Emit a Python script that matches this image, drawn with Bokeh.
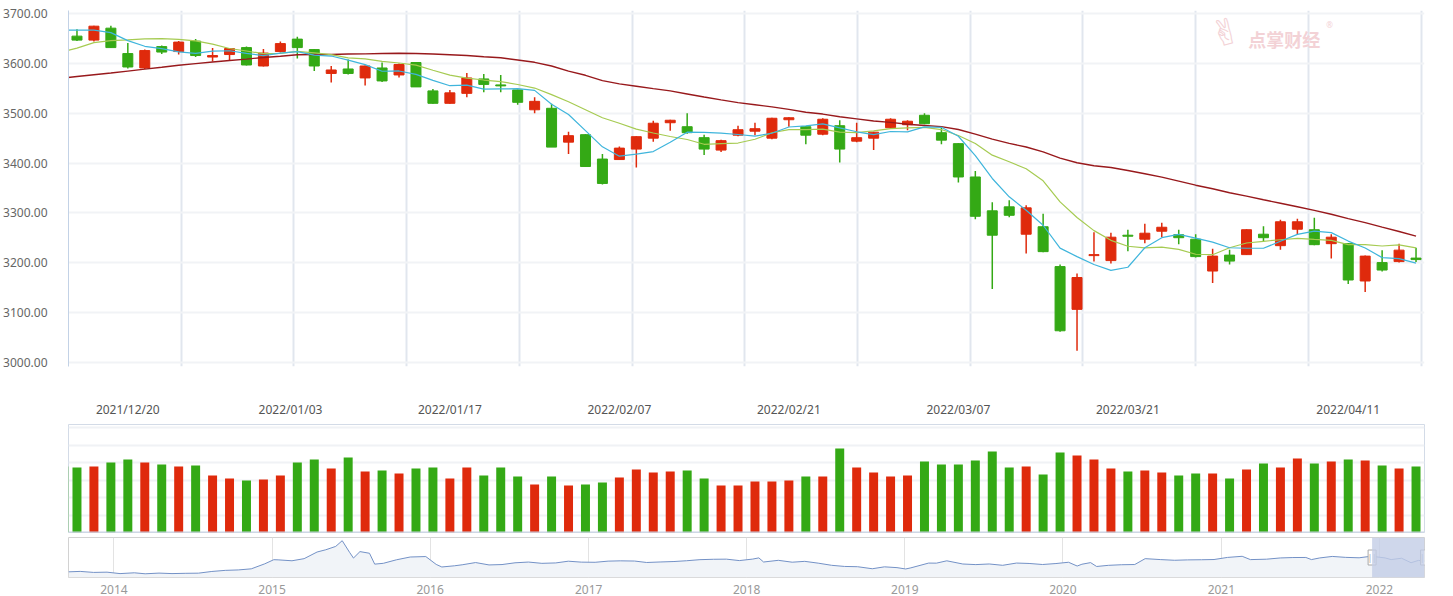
import pandas as pd
from bokeh.plotting import figure
from bokeh.layouts import column
from bokeh.models import (Range1d, FixedTicker, ColumnDataSource, CustomJSTickFormatter,
                          PrintfTickFormatter, BoxAnnotation, Label, Span)
from bokeh.embed import file_html
from bokeh.resources import INLINE
from bokeh.core.properties import value

# ---------------- data ----------------
DATES = [
    "2021/12/14", "2021/12/15", "2021/12/16", "2021/12/17", "2021/12/20", "2021/12/21", "2021/12/22",
    "2021/12/23", "2021/12/24", "2021/12/27", "2021/12/28", "2021/12/29", "2021/12/30", "2021/12/31",
    "2022/01/04", "2022/01/05", "2022/01/06", "2022/01/07", "2022/01/10", "2022/01/11", "2022/01/12",
    "2022/01/13", "2022/01/14", "2022/01/17", "2022/01/18", "2022/01/19", "2022/01/20", "2022/01/21",
    "2022/01/24", "2022/01/25", "2022/01/26", "2022/01/27", "2022/01/28", "2022/02/07", "2022/02/08",
    "2022/02/09", "2022/02/10", "2022/02/11", "2022/02/14", "2022/02/15", "2022/02/16", "2022/02/17",
    "2022/02/18", "2022/02/21", "2022/02/22", "2022/02/23", "2022/02/24", "2022/02/25", "2022/02/28",
    "2022/03/01", "2022/03/02", "2022/03/03", "2022/03/04", "2022/03/07", "2022/03/08", "2022/03/09",
    "2022/03/10", "2022/03/11", "2022/03/14", "2022/03/15", "2022/03/16", "2022/03/17", "2022/03/18",
    "2022/03/21", "2022/03/22", "2022/03/23", "2022/03/24", "2022/03/25", "2022/03/28", "2022/03/29",
    "2022/03/30", "2022/03/31", "2022/04/01", "2022/04/06", "2022/04/07", "2022/04/08", "2022/04/11",
    "2022/04/12", "2022/04/13", "2022/04/14", "2022/04/15",
]

OPEN = [3663,
        3655, 3647, 3671, 3620, 3591, 3634, 3624, 3645, 3613, 3618,
        3632, 3595, 3624, 3649, 3628, 3580, 3589, 3571, 3591, 3577,
        3602, 3545, 3520, 3540, 3569, 3557, 3547, 3507, 3510, 3442,
        3457, 3408, 3407, 3428, 3450, 3481, 3473, 3451, 3426, 3456,
        3464, 3450, 3487, 3473, 3458, 3475, 3444, 3450, 3471, 3477,
        3496, 3461, 3439, 3372, 3304, 3312, 3257, 3272, 3192, 3106,
        3214, 3204, 3255, 3247, 3263, 3256, 3247, 3183, 3215, 3216,
        3257, 3234, 3267, 3266, 3238, 3238, 3163, 3200, 3202, 3209]

HIGH = [3672,
        3669, 3676, 3676, 3641, 3628, 3636, 3645, 3649, 3631, 3631,
        3634, 3629, 3644, 3654, 3629, 3595, 3608, 3596, 3602, 3600,
        3603, 3549, 3547, 3581, 3579, 3577, 3548, 3532, 3519, 3463,
        3458, 3418, 3433, 3454, 3485, 3487, 3500, 3457, 3447, 3475,
        3481, 3491, 3492, 3474, 3490, 3486, 3481, 3463, 3490, 3486,
        3500, 3471, 3440, 3384, 3321, 3325, 3315, 3298, 3196, 3178,
        3261, 3260, 3266, 3278, 3280, 3266, 3257, 3228, 3226, 3267,
        3273, 3286, 3288, 3290, 3257, 3239, 3214, 3225, 3238, 3230]

LOW = [3651,
       3645, 3644, 3631, 3590, 3589, 3619, 3618, 3613, 3604, 3607,
       3596, 3594, 3622, 3610, 3585, 3562, 3578, 3556, 3563, 3572,
       3553, 3519, 3519, 3532, 3542, 3542, 3517, 3500, 3432, 3418,
       3393, 3357, 3406, 3391, 3443, 3465, 3459, 3416, 3422, 3454,
       3456, 3448, 3473, 3438, 3456, 3401, 3442, 3426, 3469, 3466,
       3478, 3438, 3361, 3287, 3147, 3291, 3218, 3221, 3061, 3023,
       3202, 3198, 3223, 3239, 3251, 3237, 3210, 3159, 3196, 3215,
       3243, 3226, 3256, 3235, 3208, 3157, 3141, 3182, 3200, 3201]

CLOSE = [3662,
         3647, 3675, 3632, 3593, 3626, 3623, 3643, 3616, 3616, 3630,
         3597, 3621, 3640, 3632, 3595, 3587, 3580, 3595, 3565, 3598,
         3553, 3520, 3541, 3571, 3558, 3555, 3522, 3524, 3432, 3455,
         3393, 3359, 3430, 3453, 3480, 3486, 3461, 3428, 3445, 3467,
         3469, 3490, 3491, 3456, 3488, 3428, 3451, 3462, 3488, 3484,
         3479, 3446, 3372, 3293, 3255, 3295, 3310, 3222, 3063, 3170,
         3216, 3251, 3253, 3259, 3271, 3250, 3212, 3213, 3203, 3266,
         3250, 3282, 3282, 3236, 3251, 3165, 3213, 3185, 3225, 3206]

VOLUME = [330,
          325, 330, 350, 365, 350, 340, 330, 335, 285, 270,
          260, 265, 285, 350, 365, 320, 375, 305, 310, 295,
          320, 325, 270, 325, 285, 325, 280, 240, 280, 235,
          240, 250, 275, 315, 300, 305, 310, 270, 235, 235,
          255, 255, 260, 280, 280, 420, 325, 300, 280, 285,
          355, 340, 340, 360, 405, 325, 330, 290, 400, 385,
          365, 320, 305, 310, 300, 285, 295, 295, 270, 315,
          345, 325, 370, 345, 355, 365, 360, 335, 320, 330]

MA5 = [3667,
       3667, 3667, 3662, 3646, 3634.6, 3629.8, 3623.4, 3620.2, 3624.8, 3625.6,
       3620.4, 3616.0, 3620.8, 3624.0, 3617.0, 3615.0, 3606.8, 3597.8, 3584.4, 3585.0,
       3578.2, 3566.2, 3555.4, 3556.6, 3548.6, 3549.0, 3549.4, 3546.0, 3518.2, 3497.6,
       3465.2, 3432.6, 3413.8, 3418.0, 3423.0, 3441.6, 3462.0, 3461.6, 3460.0, 3457.4,
       3454.0, 3459.8, 3472.4, 3474.6, 3478.8, 3470.6, 3462.8, 3457.0, 3463.4, 3462.6,
       3472.8, 3471.8, 3453.8, 3414.8, 3369.0, 3332.2, 3305.0, 3275.0, 3229.0, 3212.0,
       3196.2, 3184.4, 3190.6, 3229.8, 3250.0, 3256.8, 3249.0, 3241.0, 3229.8, 3228.8,
       3228.8, 3242.8, 3256.6, 3263.2, 3260.2, 3243.2, 3229.4, 3210.0, 3207.8, 3198.8]

MA10 = [3622,
        3631, 3642, 3646, 3647.5, 3649.5, 3650, 3648.5, 3645.6, 3639, 3630.1,
        3625.1, 3619.7, 3620.5, 3624.4, 3621.3, 3617.7, 3611.4, 3609.3, 3604.2, 3601.0,
        3596.6, 3586.5, 3576.6, 3570.5, 3566.8, 3563.6, 3557.8, 3550.7, 3537.4, 3523.1,
        3507.1, 3491.0, 3479.9, 3468.1, 3460.3, 3453.4, 3447.3, 3437.7, 3439.0, 3440.2,
        3447.8, 3460.9, 3467.0, 3467.3, 3468.1, 3462.3, 3461.3, 3464.7, 3469.0, 3470.7,
        3471.7, 3467.3, 3455.4, 3439.1, 3415.8, 3402.5, 3388.4, 3364.4, 3321.9, 3290.5,
        3264.2, 3244.7, 3232.8, 3229.4, 3231.0, 3226.5, 3216.7, 3215.8, 3229.8, 3239.4,
        3242.8, 3245.9, 3248.8, 3246.5, 3244.5, 3236.0, 3236.1, 3233.3, 3235.5, 3229.5]

MA30 = [3570,
        3574, 3577.4, 3580.8, 3584.7, 3588.6, 3592.5, 3596.5, 3599.8, 3603, 3606,
        3608.9, 3612.2, 3614.7, 3617.5, 3618, 3618, 3619, 3619.4, 3620, 3620.6,
        3620, 3619, 3617.5, 3616, 3613.5, 3611.5, 3607, 3602.4, 3595, 3584.7,
        3576.3, 3565.7, 3559.0, 3554.3, 3549.5, 3544.9, 3538.8, 3532.6, 3526.9, 3521.4,
        3517.2, 3512.8, 3507.8, 3502.0, 3498.4, 3493.1, 3488.8, 3484.4, 3481.8, 3478.0,
        3475.5, 3473.1, 3467.4, 3458.2, 3448.1, 3439.4, 3432.3, 3422.3, 3410.0, 3400.5,
        3394.6, 3391.0, 3385.1, 3378.6, 3371.6, 3363.8, 3355.5, 3348.3, 3340.2, 3333.5,
        3326.2, 3319.3, 3312.3, 3305.0, 3297.1, 3288.3, 3280.4, 3271.2, 3262.4, 3253.1]

XTICK_LABELS = ["2021/12/20", "2022/01/03", "2022/01/17", "2022/02/07",
                "2022/02/21", "2022/03/07", "2022/03/21", "2022/04/11"]
XTICK_POS = [4, 13.6, 23, 33, 43, 53, 63, 76]
YTICKS = [3000, 3100, 3200, 3300, 3400, 3500, 3600, 3700]

NAV_DATES = [
    "2013-09-18", "2013-10-15", "2013-11-15", "2013-12-16", "2014-01-15", "2014-02-17", "2014-03-14",
    "2014-04-15", "2014-05-15", "2014-06-16", "2014-07-15", "2014-08-15", "2014-09-15", "2014-10-15",
    "2014-11-14", "2014-12-15", "2015-01-05", "2015-01-15", "2015-02-16", "2015-03-16", "2015-04-15",
    "2015-05-05", "2015-05-28", "2015-06-12", "2015-06-29", "2015-07-08", "2015-07-23", "2015-08-14",
    "2015-08-26", "2015-09-15", "2015-10-15", "2015-11-16", "2015-12-22", "2016-01-15", "2016-01-28",
    "2016-02-26", "2016-03-15", "2016-04-15", "2016-05-16", "2016-06-15", "2016-07-15", "2016-08-15",
    "2016-09-15", "2016-10-17", "2016-11-15", "2016-12-15", "2017-01-16", "2017-02-15", "2017-03-15",
    "2017-04-17", "2017-05-15", "2017-06-15", "2017-07-17", "2017-08-15", "2017-09-15", "2017-10-16",
    "2017-11-15", "2017-12-15", "2018-01-15", "2018-01-29", "2018-02-09", "2018-03-15", "2018-04-16",
    "2018-05-15", "2018-06-15", "2018-07-16", "2018-08-15", "2018-09-14", "2018-10-18", "2018-11-15",
    "2018-12-14", "2019-01-03", "2019-01-15", "2019-02-25", "2019-03-15", "2019-04-08", "2019-05-15",
    "2019-06-14", "2019-07-15", "2019-08-15", "2019-09-16", "2019-10-15", "2019-11-15", "2019-12-16",
    "2020-01-14", "2020-02-03", "2020-02-14", "2020-03-05", "2020-03-19", "2020-04-15", "2020-05-15",
    "2020-06-15", "2020-07-09", "2020-08-14", "2020-09-15", "2020-10-15", "2020-11-16", "2020-12-15",
    "2021-01-15", "2021-02-18", "2021-03-09", "2021-04-15", "2021-05-17", "2021-06-15", "2021-07-15",
    "2021-07-28", "2021-08-16", "2021-09-14", "2021-10-15", "2021-11-15", "2021-12-13", "2022-01-14",
    "2022-01-28", "2022-02-21", "2022-03-15", "2022-04-01", "2022-04-15",
]
NAV_VALUES = [
    2191, 2233, 2135, 2160, 2023, 2098, 2004,
    2070, 2024, 2051, 2064, 2226, 2331, 2373,
    2478, 2953, 3351, 3336, 3247, 3449, 4084,
    4298, 4620, 5166, 4053, 3507, 4124, 3965,
    2927, 3005, 3338, 3607, 3651, 2900, 2655,
    2767, 2864, 3078, 2850, 2887, 3054, 3125,
    3002, 3041, 3207, 3117, 3103, 3213, 3241,
    3222, 3083, 3132, 3176, 3251, 3354, 3390,
    3402, 3266, 3410, 3524, 3129, 3291, 3111,
    3192, 3021, 2814, 2705, 2681, 2486, 2668,
    2593, 2464, 2571, 3027, 3021, 3245, 2938,
    2882, 2942, 2815, 3030, 2991, 2891, 2984,
    3106, 2746, 2917, 3071, 2702, 2811, 2868,
    2890, 3451, 3360, 3295, 3332, 3346, 3367,
    3566, 3675, 3360, 3398, 3517, 3557, 3564,
    3361, 3518, 3662, 3572, 3533, 3681, 3521,
    3361, 3490, 3063, 3282, 3211,
]
NAV_START = "2013-09-18"
NAV_YEARS = [2014, 2015, 2016, 2017, 2018, 2019, 2020, 2021, 2022]

# ---------------- style ----------------
RED = "#df2a0c"
GREEN = "#34a915"
C_MA5 = "#3fb5dc"
C_MA10 = "#a6cb52"
C_MA30 = "#98191c"
FONT = "Noto Sans"
W = 1453
LEFT = 68
RIGHT = 29


def ms(s):
    return pd.Timestamp(s.replace("/", "-")).value // 10**6


idx = list(range(len(DATES)))
colors = [RED if c >= o else GREEN for o, c in zip(OPEN, CLOSE)]
src = ColumnDataSource(dict(
    x=idx, o=OPEN, h=HIGH, l=LOW, c=CLOSE,
    top=[max(o, c) for o, c in zip(OPEN, CLOSE)],
    bottom=[min(o, c) for o, c in zip(OPEN, CLOSE)],
    color=colors, vol=VOLUME,
))

# ---------------- main candlestick ----------------
n_view = len(DATES) - 1
x_range = Range1d(0.5, 0.5 + n_view)
p = figure(width=W, height=420, x_range=x_range, y_range=Range1d(2991.2, 3706.5),
           toolbar_location=None, output_backend="svg",
           min_border_left=LEFT, min_border_right=RIGHT, min_border_top=10, min_border_bottom=46,
           outline_line_color=None)
p.yaxis.ticker = FixedTicker(ticks=YTICKS)
p.yaxis.formatter = PrintfTickFormatter(format="%.2f")
p.yaxis.axis_line_color = "#c3d2e6"
p.yaxis.major_tick_line_color = None
p.yaxis.minor_tick_line_color = None
p.yaxis.major_label_standoff = 15
p.yaxis.major_label_text_font = FONT
p.yaxis.major_label_text_font_size = "12px"
p.yaxis.major_label_text_color = "#666666"

p.xaxis.ticker = FixedTicker(ticks=XTICK_POS)
p.xaxis.formatter = CustomJSTickFormatter(args=dict(pos=XTICK_POS, lab=XTICK_LABELS), code="""
for (let i = 0; i < pos.length; i++) { if (Math.abs(tick - pos[i]) < 1e-6) return lab[i]; }
return "";
""")
p.xaxis.axis_line_color = None
p.xaxis.major_tick_line_color = None
p.xaxis.minor_tick_line_color = None
p.xaxis.major_label_standoff = 28
p.xaxis.major_label_text_font = FONT
p.xaxis.major_label_text_font_size = "12px"
p.xaxis.major_label_text_color = "#555555"

vstep = n_view / 12.03
p.xgrid.ticker = FixedTicker(ticks=[0.5 + vstep * k for k in range(1, 13)])
p.xgrid.grid_line_color = "#e1e6ee"
p.xgrid.grid_line_width = 2
p.ygrid.grid_line_color = "#f1f3f6"
p.ygrid.grid_line_width = 2

p.segment(x0="x", y0="l", x1="x", y1="h", line_color="color", line_width=1.5, source=src)
p.vbar(x="x", width=0.59, top="top", bottom="bottom", fill_color="color",
       line_color="color", line_width=1, source=src)
p.line(idx, MA30, line_color=C_MA30, line_width=1.4)
p.line(idx, MA10, line_color=C_MA10, line_width=1.2)
p.line(idx, MA5, line_color=C_MA5, line_width=1.2)

WM = "#f3d2d6"
p.add_layout(Label(x=67.9, y=3655, text="\u270c", text_font="DejaVu Sans", text_font_size="36px",
                   text_color=WM, text_baseline="middle", angle=0.25))
p.add_layout(Label(x=70.1, y=3648.5, text="点掌财经", text_font="Noto Sans CJK SC",
                   text_font_size="18px", text_font_style="bold", text_color=WM, text_baseline="middle"))
p.add_layout(Label(x=74.7, y=3679, text="®", text_font=FONT, text_font_size="8px",
                   text_color=WM, text_baseline="middle"))

# ---------------- volume ----------------
v = figure(width=W, height=115, x_range=x_range, y_range=Range1d(0, 540),
           x_axis_location=None, y_axis_location=None,
           toolbar_location=None, output_backend="svg",
           min_border_left=LEFT, min_border_right=RIGHT, min_border_top=4, min_border_bottom=3,
           outline_line_color="#d3dbe7", outline_line_width=1)
v.xgrid.visible = False
v.ygrid.ticker = FixedTicker(ticks=[87.5 * k for k in range(0, 7)])
v.ygrid.grid_line_color = "#f0f2f5"
v.ygrid.grid_line_width = 2
v.vbar(x="x", width=0.53, top="vol", bottom=0, fill_color="color", line_color=None, source=src)
v.add_layout(Span(location=0, dimension="width", line_color="#c9d4e4", line_width=2))

# ---------------- navigator ----------------
nav_x = [ms(d) for d in NAV_DATES]
nav_lo, nav_hi = 1650, 5470
n = figure(width=W, height=61, x_axis_type="datetime",
           x_range=Range1d(ms(NAV_START), ms(DATES[-1])), y_range=Range1d(nav_lo, nav_hi),
           y_axis_location=None, toolbar_location=None, output_backend="svg",
           min_border_left=LEFT, min_border_right=RIGHT, min_border_top=2, min_border_bottom=19,
           outline_line_color="#d2d2d2")
year_ticks = [ms(f"{y}-01-01") for y in NAV_YEARS]
n.xaxis.ticker = FixedTicker(ticks=year_ticks)
n.xaxis.formatter = CustomJSTickFormatter(code="return String(new Date(tick).getUTCFullYear());")
n.xaxis.axis_line_color = None
n.xaxis.major_tick_line_color = None
n.xaxis.minor_tick_line_color = None
n.xaxis.major_label_standoff = 1
n.xaxis.major_label_text_font = FONT
n.xaxis.major_label_text_font_size = "12px"
n.xaxis.major_label_text_color = "#999999"
n.ygrid.visible = False
n.xgrid.ticker = FixedTicker(ticks=year_ticks)
n.xgrid.grid_line_color = "#e3e3e3"
n.varea(x=nav_x, y1=[nav_lo] * len(nav_x), y2=NAV_VALUES, fill_color="#f1f4f8")
n.line(nav_x, NAV_VALUES, line_color="#7391c6", line_width=1)
win_left = ms(DATES[1])
win_right = ms(DATES[-1])
n.add_layout(BoxAnnotation(left=win_left, right=win_right, fill_color="#c3cde6", fill_alpha=0.8,
                           line_color=None))
mid = (nav_lo + nav_hi) / 2
n.rect(x=[win_left, win_right], y=[mid, mid], width=8, height=15, width_units="screen",
       height_units="screen", fill_color="white", line_color="#a8a8a8", line_width=1)
n.text(x=[win_left, win_right], y=[mid, mid], text=["||", "||"], text_font=value(FONT),
       text_font_size="8px", text_color="#999999", text_align="center", text_baseline="middle")

layout = column(p, v, n, spacing=0)
open("out.html", "w").write(file_html(layout, INLINE))
